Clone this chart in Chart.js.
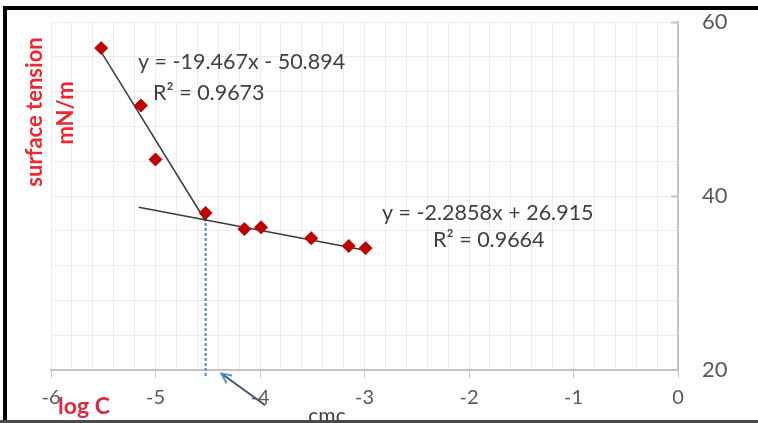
<!DOCTYPE html>
<html>
<head>
<meta charset="utf-8">
<script src="https://cdn.jsdelivr.net/npm/chart.js@4.4.1/dist/chart.umd.min.js"></script>
<style>
  html, body { margin: 0; padding: 0; background: #fff; }
  canvas { display: block; }
</style>
</head>
<body>
<canvas id="cmcChart" width="758" height="423"></canvas>
<script>
// log C values and measured surface tension (mN/m)
const logC = [-5.52, -5.14, -5.0, -4.52, -4.15, -3.99, -3.51, -3.15, -2.99];
const surfaceTension = [57.0, 50.4, 44.2, 38.05, 36.2, 36.4, 35.15, 34.25, 34.0];

// linear fits: steep part before cmc, flat part after
const fitSlopes = [-19.467, -2.2858];
const fitIntercepts = [-50.894, 26.915];
const fitR2 = ['0.9673', '0.9664'];
const fitRanges = [[-5.52, -4.52], [-5.16, -2.97]];

const xTickLabels = ['-6', '-5', '-4', '-3', '-2', '-1', '0'];
const yTickLabels = ['20', '40', '60'];

const cmcIndex = 3;

function fitLine(i) {
    return fitRanges[i].map(x => ({ x: x, y: fitSlopes[i] * x + fitIntercepts[i] }));
}

function fitText(i) {
    const b = fitIntercepts[i];
    return 'y = ' + fitSlopes[i] + 'x ' + (b < 0 ? '- ' : '+ ') + Math.abs(b);
}

const isWhole = v => Math.abs(v - Math.round(v)) < 1e-6;

// frame, axis captions, equations and the cmc arrow
const extras = {
    id: 'extras',
    afterDraw(chart) {
        const ctx = chart.ctx;
        const xs = chart.scales.x, ys = chart.scales.y;
        ctx.save();

        // equations of the two fits
        ctx.fillStyle = '#404040';
        ctx.font = '21.5px Lato';
        ctx.textBaseline = 'middle';
        ctx.textAlign = 'left';
        ctx.fillText(fitText(0), 138, 62);
        ctx.fillText('R\u00b2 = ' + fitR2[0], 153, 93);
        ctx.fillText(fitText(1), 382, 213);
        ctx.fillText('R\u00b2 = ' + fitR2[1], 433, 240);

        // axis captions
        ctx.fillStyle = '#F0262E';
        ctx.font = 'bold 22px Lato';
        ctx.textAlign = 'center';
        ctx.save();
        ctx.translate(35, 112);
        ctx.rotate(-Math.PI / 2);
        ctx.fillText('surface tension', 0, 0);
        ctx.restore();
        ctx.save();
        ctx.translate(66, 113);
        ctx.rotate(-Math.PI / 2);
        ctx.fillText('mN/m', 0, 0);
        ctx.restore();
        ctx.fillStyle = '#DC2840';
        ctx.font = 'bold 23px Lato';
        ctx.fillText('log C', 84, 407);

        ctx.fillStyle = '#404040';
        ctx.font = '21px Lato';
        ctx.textBaseline = 'alphabetic';
        ctx.fillText('cmc', 327, 423);

        // short inward ticks on the right axis
        ctx.strokeStyle = '#c4c4c4';
        ctx.lineWidth = 2;
        [40, 60].forEach(v => {
            const py = Math.round(ys.getPixelForValue(v)) + 0.5;
            ctx.beginPath();
            ctx.moveTo(xs.right - 7, py);
            ctx.lineTo(xs.right, py);
            ctx.stroke();
        });

        // arrow pointing at the cmc position
        const tailX = xs.getPixelForValue(-3.95), tailY = ys.getPixelForValue(15.95);
        const headX = xs.getPixelForValue(-4.37), headY = ys.getPixelForValue(19.6);
        ctx.strokeStyle = '#3E5670';
        ctx.lineWidth = 2;
        ctx.beginPath();
        ctx.moveTo(tailX, tailY);
        ctx.lineTo(headX, headY);
        ctx.stroke();
        const ang = Math.atan2(tailY - headY, tailX - headX);
        ctx.strokeStyle = '#5B8FCF';
        ctx.beginPath();
        ctx.moveTo(headX + 11 * Math.cos(ang - 0.45), headY + 11 * Math.sin(ang - 0.45));
        ctx.lineTo(headX, headY);
        ctx.lineTo(headX + 11 * Math.cos(ang + 0.45), headY + 11 * Math.sin(ang + 0.45));
        ctx.stroke();

        // picture frame
        ctx.fillStyle = '#000';
        ctx.fillRect(5, 6, 753, 4);
        ctx.fillRect(3, 6, 4, 414);
        ctx.fillStyle = '#4a4a4a';
        ctx.fillRect(0, 420, 758, 3);
        ctx.restore();
    }
};

new Chart(document.getElementById('cmcChart'), {
    type: 'scatter',
    data: {
        datasets: [
            {
                label: 'surface tension',
                data: logC.map((x, i) => ({ x: x, y: surfaceTension[i] })),
                pointStyle: 'rectRot',
                pointRadius: 6.5,
                backgroundColor: '#C00000',
                borderColor: '#C00000',
                borderWidth: 1
            },
            {
                label: 'fit 1',
                data: fitLine(0),
                showLine: true,
                pointRadius: 0,
                borderColor: '#3a3a3a',
                borderWidth: 1.5
            },
            {
                label: 'fit 2',
                data: fitLine(1),
                showLine: true,
                pointRadius: 0,
                borderColor: '#3a3a3a',
                borderWidth: 1.5
            },
            {
                label: 'cmc',
                data: [
                    { x: logC[cmcIndex], y: surfaceTension[cmcIndex] },
                    { x: logC[cmcIndex], y: 19.05 }
                ],
                showLine: true,
                pointRadius: 0,
                borderColor: '#4F86CF',
                borderWidth: 2,
                borderDash: [3, 2],
                clip: false
            }
        ]
    },
    options: {
        responsive: false,
        animation: false,
        layout: { padding: { left: 51, top: 22, right: 0, bottom: 0 } },
        plugins: { legend: { display: false }, tooltip: { enabled: false } },
        scales: {
            x: {
                type: 'linear',
                min: -6,
                max: 0,
                afterFit(scale) { scale.height = 53; },
                border: { color: '#c4c4c4', width: 2 },
                grid: {
                    color: '#ececec',
                    tickLength: 8,
                    tickColor: ctx => isWhole(ctx.tick.value) ? '#c4c4c4' : 'rgba(0,0,0,0)'
                },
                ticks: {
                    stepSize: 0.2,
                    autoSkip: false,
                    maxRotation: 0,
                    padding: 8,
                    color: '#595959',
                    font: { family: 'Lato', size: 20 },
                    callback: v => isWhole(v) ? xTickLabels[Math.round(v) + 6] : ''
                }
            },
            y: {
                position: 'right',
                min: 20,
                max: 60,
                afterFit(scale) { scale.width = 80; },
                border: { color: '#c4c4c4', width: 2 },
                grid: { color: '#ececec', tickLength: 24, tickColor: 'rgba(0,0,0,0)' },
                ticks: {
                    stepSize: 4,
                    autoSkip: false,
                    padding: 0,
                    color: '#595959',
                    font: { family: 'Lato', size: 22 },
                    callback: v => (v % 20 === 0) ? yTickLabels[v / 20 - 1] : ''
                }
            }
        }
    },
    plugins: [extras]
});
</script>
</body>
</html>
